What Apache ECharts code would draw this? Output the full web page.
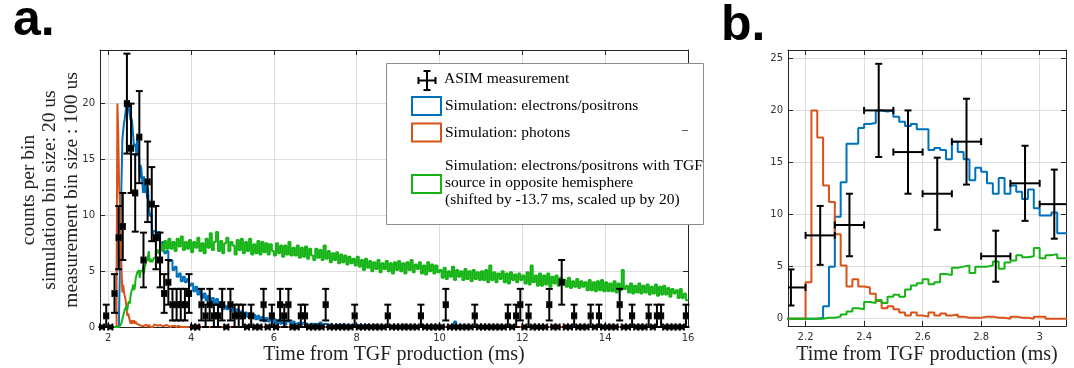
<!DOCTYPE html>
<html><head><meta charset="utf-8">
<script src="https://cdn.jsdelivr.net/npm/echarts@6/dist/echarts.min.js"></script>
<style>html,body{margin:0;padding:0;background:#fff}#c{width:1074px;height:368px}</style>
</head><body><div id="c"></div><script>
// ---------------- DATA ----------------
// simulation histograms: fine section (20 us bins) and coarse section (50 us bins, estimated from panel a)
const SIM_LEAD = 1.8;          // curves are zero from here
const SIM_FINE_START = 2.14;
const SIM_FINE_BIN = 0.02;
const SIM_COARSE_START = 3.10;
const SIM_COARSE_BIN = 0.05;
const SIM_END = 16.0;

const electronsFine = [0,0,0,0,0,0.1,1.2,5.0,9.8,13.1,16.8,16.8,18.3,18.7,18.8,20.0,19.9,20.0,19.4,18.9,
  18.5,18.7,18.2,18.2,16.2,16.4,16.2,15.3,17.0,16.0,15.3,13.3,14.5,14.1,13.0,12.0,13.5,12.0,12.8,12.2,
  11.5,12.4,10.6,9.9,9.9,10.2,8.2,8.2];
const photonsFine = [0,0,0,3.5,20,17.4,12.8,11.2,8.1,5.1,3.1,3.8,3.1,3.0,2.4,1.7,1.0,1.2,0.9,0.6,
  0.3,0.6,0.3,0.2,0.6,0.3,0.5,0.3,0.4,0.2,0.1,0.1,0.1,0.2,0.2,0.1,0.1,0.0,0.2,0.1,
  0.1,0.0,0.2,0.2,0,0,0,0];
const oppositeFine = [0,0,0,0,0,0,0.1,0.1,0.2,0.4,0.7,1.0,0.9,1.6,1.5,1.8,1.5,2.1,2.3,2.1,
  2.8,3.2,3.4,3.8,3.3,3.5,4.3,4.2,4.9,5.0,5.1,4.4,5.0,5.0,5.1,5.5,4.8,5.4,5.6,6.1,
  5.9,6.0,6.8,5.8,6.1,6.2,5.8,5.8];

const electronsCoarse = [8.6,8.1,8.5,7.4,7.6,6.6,6.8,5.9,
  6.0,5.1,5.4,4.5,4.8,4.1,4.5,4.0,4.3,3.7,
  3.9,3.2,3.6,2.9,3.3,2.6,3.0,2.4,2.8,2.2,
  2.6,2.0,2.5,1.8,2.2,1.6,1.9,1.6,1.8,1.4,
  1.7,1.3,1.6,1.1,1.4,1.0,1.3,0.9,1.2,0.8,
  1.1,0.7,1.0,0.6,0.9,0.5,0.8,0.5,0.7,0.4,
  0.7,0.3,0.6,0.3,0.6,0.2,0.5,0.4,0.2,0.5,
  0.3,0.4,0.3,0.2,0.4,0.3,0.2,0.3,0.3,0.2,
  0.3,0.2,0.4,0.2,0.3,0.2,0.2,0.3,0.1,0.2,
  0.2,0.1,0.2,0.3,0.1,0.2,0.1,0.2,0.1,0.2,
  0.1,0.2,0.1,0.1,0.2,0.1,0.0,0.1,0.2,0.1,
  0.1,0.0,0.1,0.2,0.1,0.0,0.1,0.1,0.0,0.1,
  0.1,0.0,0.2,0.0,0.1,0.0,0.1,0.0,0.0,0.1,
  0.0,0.2,0.0,0.1,0.0,0.0,0.1,0.0,0.1,0.0,
  0.0,0.1,0.0,0.0,0.1,0.0,0.0,0.5,0.0,0.0];
const photonsCoarse = [0.2,0.1,0.2,0.1,0.1,0.2,0.1,0.0,0.1,0.1,0.0,0.1,0.0,0.0];
const oppositeCoarse = [6.2,6.9,6.6,7.4,
  6.8,7.7,7.0,7.9,
  7.0,7.6,6.8,7.9,7.2,8.1,6.9,7.6,7.0,7.8,
  6.7,7.6,7.1,8.0,6.8,7.5,6.6,7.9,7.1,8.4,
  6.9,7.6,8.5,6.8,7.7,6.6,7.5,8.0,6.8,7.6,
  7.3,6.5,7.8,6.9,7.9,6.6,7.6,6.8,7.9,6.5,
  7.4,6.6,7.7,6.5,7.6,6.7,7.5,6.5,7.4,6.8,
  6.4,7.5,6.6,7.3,6.3,7.3,6.5,7.6,6.4,7.1,
  6.4,7.3,6.2,7.1,6.3,7.2,6.1,7.0,6.4,6.0,
  7.0,6.2,6.9,6.0,7.3,6.1,6.8,5.8,6.6,6.0,
  6.7,5.7,6.5,5.8,6.4,5.6,6.3,5.7,6.1,5.5,
  6.3,5.4,6.0,5.1,6.1,5.3,5.9,5.0,5.8,5.2,
  6.0,4.9,5.7,5.2,5.9,5.0,5.7,4.8,5.8,5.1,
  5.9,5.0,5.7,4.8,5.8,5.1,6.0,4.9,5.6,5.2,
  5.8,4.8,5.5,4.7,5.8,5.0,5.6,4.8,5.5,4.9,
  5.1,4.4,5.3,4.3,5.0,4.5,5.4,4.2,5.1,4.5,
  5.0,4.2,5.2,4.3,5.0,4.1,5.1,4.3,4.9,4.2,
  5.0,4.2,5.1,4.0,5.5,4.2,4.9,4.0,4.8,4.3,
  5.0,4.0,4.8,3.9,4.9,4.2,4.7,4.0,4.8,4.2,
  4.6,3.9,4.9,3.8,5.5,4.0,4.6,3.7,4.8,3.7,
  4.6,3.8,4.8,3.6,4.5,3.9,4.6,3.7,4.4,3.9,
  4.2,3.6,4.4,3.5,4.1,3.6,4.3,3.5,4.1,3.6,
  4.0,3.3,4.2,3.3,4.0,3.2,4.1,3.3,4.2,3.2,
  4.0,3.2,3.9,3.2,4.1,3.1,3.9,3.3,5.1,3.4,
  3.7,3.1,3.9,3.0,3.7,3.1,3.9,3.0,3.7,3.1,
  3.8,2.9,3.6,3.0,3.8,2.8,3.6,2.9,3.7,2.9,
  3.5,2.7,3.4,3.0,3.3,2.6,3.4,2.6,3.0,2.4];

// ASIM measurement, 100 us bins, bin centres from 1.85 ms
const MEAS_START = 1.85;
const MEAS_BIN = 0.1;
const measCounts = [0,1,0,3,8,9,20,16,12,17,
  6,13,11,8,6,3,4,2,2,2,
  2,3,0,0,2,1,2,1,1,2,
  0,2,1,1,1,0,1,0,0,2,
  0,1,0,2,1,2,0,0,1,1,
  0,0,0,0,2,0,0,0,0,0,
  0,1,0,0,0,0,0,0,0,1,
  0,0,0,0,0,0,0,1,0,0,
  0,0,0,2,0,0,0,0,0,0,
  1,0,0,0,0,0,0,0,1,0,
  1,2,0,1,0,0,0,0,2,0,
  0,4,0,0,1,0,0,0,1,0,
  1,0,0,0,0,2,0,0,1,0,
  0,0,1,0,1,1,0,0,0,0,
  0,1];

const xTitle = 'Time from TGF production (ms)';
const yTitle = 'counts per bin\nsimulation bin size: 20 us\nmeasurement bin size : 100 us';
const legendLabels = ['ASIM measurement', 'Simulation: electrons/positrons', 'Simulation: photons',
  'Simulation: electrons/positrons with TGF\nsource in opposite hemisphere\n(shifted by -13.7 ms, scaled up by 20)'];

// ---------------- BUILD ----------------
const C_BLUE = '#0072BD', C_ORANGE = '#D95319', C_GREEN = '#17B417';
function stepData(fine, coarse) {
  const pts = [[SIM_LEAD, 0]];
  fine.forEach((v, i) => pts.push([+(SIM_FINE_START + i * SIM_FINE_BIN).toFixed(3), v]));
  coarse.forEach((v, i) => pts.push([+(SIM_COARSE_START + i * SIM_COARSE_BIN).toFixed(3), v]));
  const lastEdge = +(SIM_COARSE_START + coarse.length * SIM_COARSE_BIN).toFixed(3);
  if (lastEdge < SIM_END - 1e-9) { pts.push([lastEdge, 0]); pts.push([SIM_END, 0]); }
  else pts.push([lastEdge, coarse[coarse.length - 1]]);
  return pts;
}
const elData = stepData(electronsFine, electronsCoarse);
const phData = stepData(photonsFine, photonsCoarse);
const opData = stepData(oppositeFine, oppositeCoarse);
const measData = measCounts.map((c, i) => [+(MEAS_START + i * MEAS_BIN).toFixed(2), c]);

function errorBarRenderer(withMarker) {
  return function (params, api) {
    const t = api.value(0), n = api.value(1), e = Math.sqrt(n);
    const p = api.coord([t, n]);
    const pt = api.coord([t, n + e]);
    const pb = api.coord([t, n - e]);
    const pl = api.coord([t - MEAS_BIN / 2, n]);
    const pr = api.coord([t + MEAS_BIN / 2, n]);
    const cap = 3.5;
    const L = (x1, y1, x2, y2) => ({ type: 'line', shape: { x1, y1, x2, y2 }, style: { stroke: '#000', lineWidth: 2 } });
    const ch = [
      L(pt[0], pt[1], pb[0], pb[1]),
      L(pt[0] - cap, pt[1], pt[0] + cap, pt[1]),
      L(pb[0] - cap, pb[1], pb[0] + cap, pb[1]),
      L(pl[0], pl[1], pr[0], pr[1]),
      L(pl[0], pl[1] - cap, pl[0], pl[1] + cap),
      L(pr[0], pr[1] - cap, pr[0], pr[1] + cap)
    ];
    if (withMarker) ch.push({ type: 'rect', shape: { x: p[0] - 2.5, y: p[1] - 2.5, width: 5, height: 5 }, style: { fill: '#000' } });
    return { type: 'group', children: ch };
  };
}

const AX = '#262626';
const tickLabel = { color: '#333', fontSize: 10, fontFamily: 'DejaVu Sans', margin: 6, showMinLabel: false };
function mainX(grid, min, max, split, showMax) {
  return { type: 'value', gridIndex: grid, min, max, splitNumber: split, position: 'bottom',
    axisLine: { show: true, onZero: false, lineStyle: { color: AX, width: 1 } },
    axisTick: { show: true, inside: true, length: 5, lineStyle: { color: AX } },
    axisLabel: Object.assign({}, tickLabel, { showMaxLabel: showMax }),
    splitLine: { show: true, lineStyle: { color: '#dedede', width: 1 } } };
}
function mirrorX(grid, min, max, split) {
  return { type: 'value', gridIndex: grid, min, max, splitNumber: split, position: 'top',
    axisLine: { show: true, onZero: false, lineStyle: { color: AX, width: 1 } },
    axisTick: { show: true, inside: true, length: 5, lineStyle: { color: AX } },
    axisLabel: { show: false }, splitLine: { show: false } };
}
function mainY(grid, min, max, showMin, opts) {
  return Object.assign({ type: 'value', gridIndex: grid, min, max, position: 'left',
    axisLine: { show: true, onZero: false, lineStyle: { color: AX, width: 1 } },
    axisTick: { show: true, inside: true, length: 5, lineStyle: { color: AX } },
    axisLabel: Object.assign({}, tickLabel, { showMinLabel: showMin, showMaxLabel: false, margin: 5 }),
    splitLine: { show: true, lineStyle: { color: '#dedede', width: 1 } } }, opts);
}
function mirrorY(grid, min, max, opts) {
  return Object.assign({ type: 'value', gridIndex: grid, min, max, position: 'right',
    axisLine: { show: true, onZero: false, lineStyle: { color: AX, width: 1 } },
    axisTick: { show: true, inside: true, length: 5, lineStyle: { color: AX } },
    axisLabel: { show: false }, splitLine: { show: false } }, opts);
}

function simLine(name, data, color, xi, yi) {
  return { name, type: 'line', step: 'end', data, xAxisIndex: xi, yAxisIndex: yi, showSymbol: false,
    symbol: 'none', lineStyle: { color, width: 2 }, itemStyle: { color }, animation: false, silent: true };
}

const serif = 'Liberation Serif';
const legendX = 386, legendY = 63;
function legendRect(y, color) {
  return { type: 'rect', shape: { x: 412, y, width: 29, height: 18 }, style: { fill: '#fff', stroke: color, lineWidth: 2 }, z: 101 };
}
function legendText(x, y, text, lh) {
  return { type: 'text', x, y, style: { text, fontFamily: serif, fontSize: 15.5, fill: '#000', align: 'left', verticalAlign: 'middle', lineHeight: lh || 17 }, z: 101 };
}
const ic = [427, 80.5];
const icSt = () => ({ stroke: '#000', lineWidth: 2 });

const option = {
  backgroundColor: '#fff',
  animation: false,
  grid: [
    { left: 100, top: 50, width: 588, height: 277 },
    { left: 788, top: 50, width: 278, height: 276 }
  ],
  xAxis: [
    mainX(0, 1.8, 16, 7, true),
    mirrorX(0, 1.8, 16, 7),
    mainX(1, 2.14, 3.09, 5, false),
    mirrorX(1, 2.14, 3.09, 5)
  ],
  yAxis: [
    mainY(0, 0, 24.8, true, { interval: 5 }),
    mirrorY(0, 0, 24.8, { interval: 5 }),
    mainY(1, -0.7, 25.8, false, { splitNumber: 5 }),
    mirrorY(1, -0.7, 25.8, { splitNumber: 5 })
  ],
  series: [
    simLine(legendLabels[1], elData, C_BLUE, 0, 0),
    simLine(legendLabels[2], phData, C_ORANGE, 0, 0),
    simLine(legendLabels[3], opData, C_GREEN, 0, 0),
    { name: legendLabels[0], type: 'custom', xAxisIndex: 0, yAxisIndex: 0, data: measData,
      encode: { x: 0, y: 1 }, renderItem: errorBarRenderer(true), clip: false, z: 5, animation: false, silent: true },
    simLine(legendLabels[1], elData, C_BLUE, 2, 2),
    simLine(legendLabels[2], phData, C_ORANGE, 2, 2),
    simLine(legendLabels[3], opData, C_GREEN, 2, 2),
    { name: legendLabels[0], type: 'custom', xAxisIndex: 2, yAxisIndex: 2, data: measData,
      encode: { x: 0, y: 1 }, renderItem: errorBarRenderer(false), clip: true, z: 5, animation: false, silent: true }
  ],
  graphic: [
    { type: 'text', x: 13, y: 21, style: { text: 'a.', fontFamily: 'Liberation Sans', fontWeight: 'bold', fontSize: 50, fill: '#000', align: 'left', verticalAlign: 'middle' } },
    { type: 'text', x: 721, y: 26, style: { text: 'b.', fontFamily: 'Liberation Sans', fontWeight: 'bold', fontSize: 50, fill: '#000', align: 'left', verticalAlign: 'middle' } },
    { type: 'text', x: 394, y: 355, style: { text: xTitle, fontFamily: serif, fontSize: 20, fill: '#222', align: 'center', verticalAlign: 'middle' } },
    { type: 'text', x: 927, y: 355, style: { text: xTitle, fontFamily: serif, fontSize: 20, fill: '#222', align: 'center', verticalAlign: 'middle' } },
    { type: 'text', x: 50, y: 190, rotation: Math.PI / 2, style: { text: yTitle, fontFamily: serif, fontSize: 19.5, lineHeight: 21.5, fill: '#222', align: 'center', verticalAlign: 'middle' } },
    // legend box
    { type: 'rect', shape: { x: legendX + 0.5, y: legendY + 0.5, width: 317, height: 161 }, style: { fill: '#fff', stroke: '#8c8c8c', lineWidth: 1 }, z: 100 },
    { type: 'line', shape: { x1: ic[0] - 8.5, y1: ic[1], x2: ic[0] + 8.5, y2: ic[1] }, style: icSt(), z: 101 },
    { type: 'line', shape: { x1: ic[0], y1: ic[1] - 9.5, x2: ic[0], y2: ic[1] + 9.5 }, style: icSt(), z: 101 },
    { type: 'line', shape: { x1: ic[0] - 3.5, y1: ic[1] - 9.5, x2: ic[0] + 3.5, y2: ic[1] - 9.5 }, style: icSt(), z: 101 },
    { type: 'line', shape: { x1: ic[0] - 3.5, y1: ic[1] + 9.5, x2: ic[0] + 3.5, y2: ic[1] + 9.5 }, style: icSt(), z: 101 },
    { type: 'line', shape: { x1: ic[0] - 8.5, y1: ic[1] - 3.5, x2: ic[0] - 8.5, y2: ic[1] + 3.5 }, style: icSt(), z: 101 },
    { type: 'line', shape: { x1: ic[0] + 8.5, y1: ic[1] - 3.5, x2: ic[0] + 8.5, y2: ic[1] + 3.5 }, style: icSt(), z: 101 },
    legendText(444, 78.5, legendLabels[0]),
    legendRect(97, C_BLUE),
    legendText(445, 106, legendLabels[1]),
    legendRect(123.5, C_ORANGE),
    legendText(445, 132.5, legendLabels[2]),
    legendRect(175, C_GREEN),
    legendText(445, 183, legendLabels[3], 16.7),
    { type: 'text', x: 685, y: 130, style: { text: '\u2013', fontFamily: serif, fontSize: 12, fill: '#000', align: 'center', verticalAlign: 'middle' }, z: 101 }
  ]
};
const chart = echarts.init(document.getElementById('c'), null, { renderer: 'canvas' });
chart.setOption(option);
</script></body></html>
